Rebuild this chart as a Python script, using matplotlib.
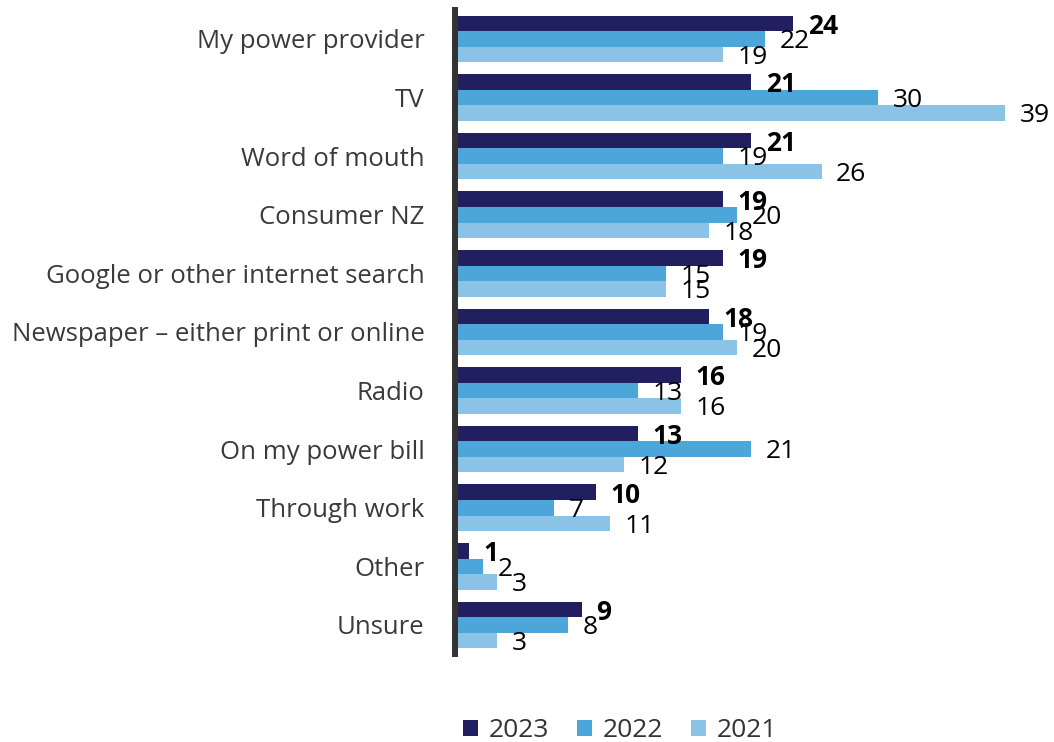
import matplotlib
matplotlib.use("Agg")
import matplotlib.pyplot as plt
import numpy as np
from matplotlib.patches import Patch

categories = ["My power provider", "TV", "Word of mouth", "Consumer NZ",
              "Google or other internet search", "Newspaper \u2013 either print or online",
              "Radio", "On my power bill", "Through work", "Other", "Unsure"]
v2023 = [24, 21, 21, 19, 19, 18, 16, 13, 10, 1, 9]
v2022 = [22, 30, 19, 20, 15, 19, 13, 21, 7, 2, 8]
v2021 = [19, 39, 26, 18, 15, 20, 16, 12, 11, 3, 3]
years = ["2023", "2022", "2021"]
colors = ["#221F60", "#4CA6DA", "#8AC3E6"]

plt.rcParams['font.family'] = ['Open Sans', 'DejaVu Sans']

fig = plt.figure(figsize=(10.54, 7.42), dpi=100)
ax = fig.add_axes([0.4317, 0.1182, 0.5617, 0.8688])

y = np.arange(len(categories))
h = 0.265
series = [v2023, v2022, v2021]
for k, vals in enumerate(series):
    pos = y + (k - 1) * h
    ax.barh(pos, vals, height=h, color=colors[k], edgecolor="none")
    for p, v in zip(pos, vals):
        ax.annotate(str(v), (v, p), xytext=(10.5, -2), textcoords="offset points",
                    ha="left", va="center", fontsize=19,
                    fontweight="bold" if k == 0 else "normal", color="black")

ax.set_xlim(0, 42)
ax.set_ylim(len(categories) - 0.5, -0.5)
ax.set_yticks(y)
ax.set_yticklabels(categories, fontsize=18.5, color="#3a3a3a")
ax.tick_params(axis="y", length=0, pad=22)
ax.set_xticks([])
for s in ["top", "right", "bottom"]:
    ax.spines[s].set_visible(False)
ax.spines["left"].set_linewidth(4.3)
ax.spines["left"].set_color("#333333")

handles = [Patch(facecolor=c, label=l) for c, l in zip(colors, years)]
fig.legend(handles=handles, loc="center", bbox_to_anchor=(0.588, 0.015),
           ncol=3, frameon=False, fontsize=19, handlelength=0.6, handleheight=0.6,
           columnspacing=1.05, handletextpad=0.38, labelcolor="#333333")

fig.savefig("out.png", dpi=100)
